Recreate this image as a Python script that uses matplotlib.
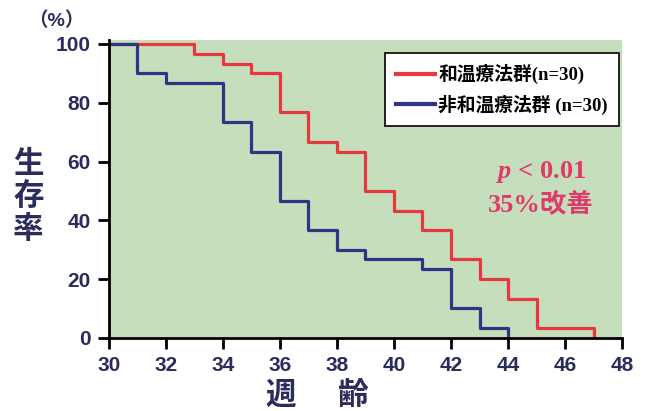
import matplotlib.pyplot as plt

# データ
weeks_on = [30, 33, 34, 35, 36, 37, 38, 39, 40, 41, 42, 43, 44, 45, 47]
surv_on = [100, 96.7, 93.3, 90, 76.7, 66.7, 63.3, 50, 43.3, 36.7, 26.7, 20, 13.3, 3.3, 0]
weeks_off = [30, 31, 32, 34, 35, 36, 37, 38, 39, 41, 42, 43, 44]
surv_off = [100, 90, 86.7, 73.3, 63.3, 46.7, 36.7, 30, 26.7, 23.3, 10, 3.3, 0]
label_on = '和温療法群(n=30)'
label_off = '非和温療法群 (n=30)'
xticks = list(range(30, 49, 2))
yticks = list(range(0, 101, 20))

navy = '#2a2c5c'
red = '#e8383d'
blue = '#2e3582'
pink = '#e03a6a'
cjk = ['Liberation Sans', 'Noto Sans CJK JP']
serif = ['Liberation Serif', 'Noto Sans CJK JP']

plt.rcParams['mathtext.fontset'] = 'custom'
plt.rcParams['mathtext.it'] = 'Liberation Serif:italic:bold'
plt.rcParams['mathtext.rm'] = 'Liberation Serif:bold'

fig = plt.figure(figsize=(6.48, 4.11), dpi=100)
ax = fig.add_axes([0.168, 0.178, 0.792, 0.725])
ax.set_facecolor('#c5dfbd')

ax.step(weeks_on, surv_on, where='post', color=red, lw=2.3, label=label_on)
ax.step(weeks_off, surv_off, where='post', color=blue, lw=2.3, label=label_off)

ax.set_xlim(30, 48)
ax.set_ylim(0, 101.4)
ax.set_xticks(xticks)
ax.set_yticks(yticks)
for s in ['top', 'right']:
    ax.spines[s].set_visible(False)
for s in ['left', 'bottom']:
    ax.spines[s].set_linewidth(2)
    ax.spines[s].set_color('black')
ax.tick_params(direction='out', length=8, width=2, colors='black', pad=5)
for lab in ax.get_xticklabels() + ax.get_yticklabels():
    lab.set_fontfamily('Liberation Sans')
    lab.set_fontweight('bold')
    lab.set_fontsize(15)
    lab.set_color(navy)

leg = ax.legend(loc='upper right', bbox_to_anchor=(0.994, 0.956), frameon=True,
                fancybox=False, edgecolor='black', framealpha=1,
                borderaxespad=0,
                prop={'family': serif, 'weight': 'bold', 'size': 13.5},
                handlelength=2.1, handletextpad=0.15, borderpad=0.6,
                labelspacing=0.55)
leg.get_frame().set_linewidth(1.2)
for ln in leg.get_lines():
    ln.set_linewidth(3)

ax.text(45.15, 56.5, '$p$ < 0.01', color=pink, fontsize=19,
        fontweight='bold', family=serif, ha='center', va='center')
ax.text(45.15, 45.6, '35%改善', color=pink, fontsize=19, fontweight='bold',
        family=serif, ha='center', va='center')

fig.text(0.087, 0.949, '（%）', color=navy, fontsize=14, fontweight='bold',
         family=cjk, ha='center', va='center')
fig.text(0.044, 0.52, '生\n存\n率', color=navy, fontsize=22, fontweight='bold',
         family=cjk, ha='center', va='center', linespacing=1.12)
fig.text(281 / 648, 0.036, '週', color=navy, fontsize=22, fontweight='bold',
         family=cjk, ha='center', va='center')
fig.text(353 / 648, 0.036, '齢', color=navy, fontsize=22, fontweight='bold',
         family=cjk, ha='center', va='center')

fig.savefig('out.png', dpi=100)
